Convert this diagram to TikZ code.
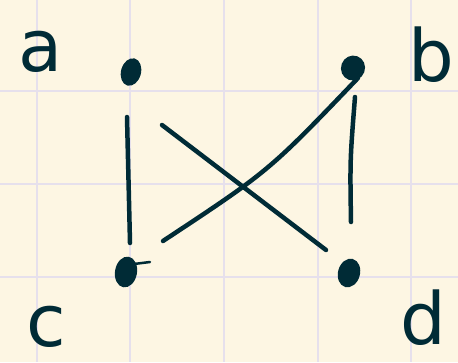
\documentclass[tikz,border=0pt]{standalone}
\usepackage{fontspec}
\setmainfont{DejaVu Sans}
\usetikzlibrary{shapes.geometric,calc}
\definecolor{paper}{HTML}{FDF6E3}
\definecolor{ink}{HTML}{002B36}
\definecolor{gridc}{HTML}{E6E0EC}
\begin{document}
\begin{tikzpicture}[x=1pt,y=-1pt,
  dot/.style={ellipse,fill=ink,draw=none,minimum width=20pt,minimum height=28pt,inner sep=0pt},
  edge/.style={draw=ink,line width=4.5pt,line cap=round},
  lbl/.style={text=ink,font=\fontsize{72}{72}\selectfont,inner sep=0pt,outer sep=0pt,text depth=0pt,anchor=base},
  gridline/.style={draw=gridc,line width=1.5pt}]
\fill[paper] (0,0) rectangle (458,362);
\useasboundingbox (0,0) rectangle (458,362);
\foreach \x in {37,130,224,318,411} \draw[gridline] (\x,0) -- (\x,362);
\foreach \y in {91,184,277} \draw[gridline] (0,\y) -- (458,\y);
% vertices
\node[dot,rotate=-15] (a) at (131,72) {};
\node[dot,minimum width=24pt,minimum height=25pt,rotate=-20] (b) at (353,68) {};
\node[dot,minimum width=22pt,minimum height=31pt,rotate=-10] (c) at (126,272) {};
\node[dot,minimum width=22pt,minimum height=29pt,rotate=-15] (d) at (349,273) {};
\draw[ink,line width=2.5pt,line cap=round] ($(c)+(8,-8)$) -- ($(c)+(24,-10)$);
% labels
\node[lbl] (la) at (41,71) {a};
\node[lbl] (lb) at (431,81) {b};
\node[lbl] (lc) at (46,346) {c};
\node[lbl] (ld) at (423,344) {d};
% edges
\draw[edge] ($(a)+(-4,45)$) -- ($(c)+(4,-29)$);
\draw[edge] ($(a)+(31,53)$) -- ($(d)+(-23,-23)$);
\draw[edge] ($(c)+(37,-31)$) .. controls ($(c)+(143,-101)$) .. ($(b)+(5,10)$);
\draw[edge] ($(b)+(2,29)$) .. controls ($(b)+(-3,92)$) .. ($(d)+(2,-51)$);
\end{tikzpicture}
\end{document}
